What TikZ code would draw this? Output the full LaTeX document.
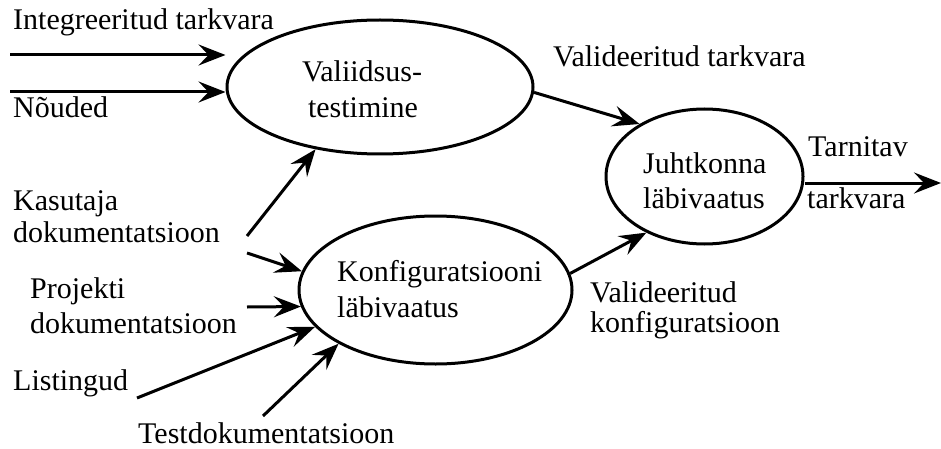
\documentclass[tikz,border=0pt]{standalone}
\usepackage{fontspec}
\setmainfont{Liberation Serif}
\usetikzlibrary{shapes.geometric,arrows.meta}
\tikzset{
  proc/.style={draw=black, line width=3pt, ellipse, inner sep=0pt},
  lbl/.style={anchor=base west, inner sep=0pt, font=\fontsize{30}{36}\selectfont},
  clbl/.style={anchor=base, inner sep=0pt, font=\fontsize{30}{36}\selectfont},
  flow/.style={line width=3pt, -{Stealth[length=27pt, width=21pt, inset=10pt]}},
}
\begin{document}
\begin{tikzpicture}[x=1pt, y=-1pt]
\useasboundingbox (0,0) rectangle (941,449);
% processes
\node[proc, minimum width=306pt, minimum height=134pt] (e1) at (380,87) {};
\node[proc, minimum width=273pt, minimum height=148pt] (e2) at (435.5,290) {};
\node[proc, minimum width=197pt, minimum height=135pt] (e3) at (704.5,176.5) {};
% process texts
\node[clbl] (e1t1) at (362,82) {Valiidsus-};
\node[clbl] (e1t2) at (363,118) {testimine};
\node[lbl] (e2t1) at (337,281) {Konfiguratsiooni};
\node[lbl] (e2t2) at (337,317) {läbivaatus};
\node[lbl] (e3t1) at (643,173) {Juhtkonna};
\node[lbl] (e3t2) at (643,208) {läbivaatus};
% input labels
\node[lbl] (in1) at (13,30) {Integreeritud tarkvara};
\node[lbl] (in2) at (13,118) {Nõuded};
\node[lbl] (kas1) at (13,210) {Kasutaja};
\node[lbl] (kas2) at (13,242) {dokumentatsioon};
\node[lbl] (pro1) at (30,298) {Projekti};
\node[lbl] (pro2) at (30,333) {dokumentatsioon};
\node[lbl] (lis) at (13,390) {Listingud};
\node[lbl] (tst) at (138,443) {Testdokumentatsioon};
% flow labels
\node[lbl] (vt) at (553,67) {Valideeritud tarkvara};
\node[lbl] (vk1) at (590,302) {Valideeritud};
\node[lbl] (vk2) at (590,332) {konfiguratsioon};
\node[lbl] (tar1) at (808,157) {Tarnitav};
\node[lbl] (tar2) at (807,208) {tarkvara};
% free ends
\coordinate (a1) at (10,55);
\coordinate (a2) at (10,92);
\coordinate (k1) at (247,236);
\coordinate (k2) at (247,253);
\coordinate (p1) at (247,307);
\coordinate (l1) at (137,398);
\coordinate (t1) at (263,416);
\coordinate (out) at (941,183);
% connectors
\draw[flow] (a1) -- (a1 -| e1.west);
\draw[flow] (a2) -- (a2 -| e1.west);
\draw[flow] (k1) -- (e1.224);
\draw[flow] (k2) -- (e2.172);
\draw[flow] (p1) -- (e2.187);
\draw[flow] (l1) -- (e2.197);
\draw[flow] (t1) -- (e2.209);
\draw[flow] (e1.358) -- (e3.141);
\draw[flow] (e2.7) -- (e3.224);
\draw[flow] (out -| e3.east) -- (out);
\end{tikzpicture}
\end{document}
